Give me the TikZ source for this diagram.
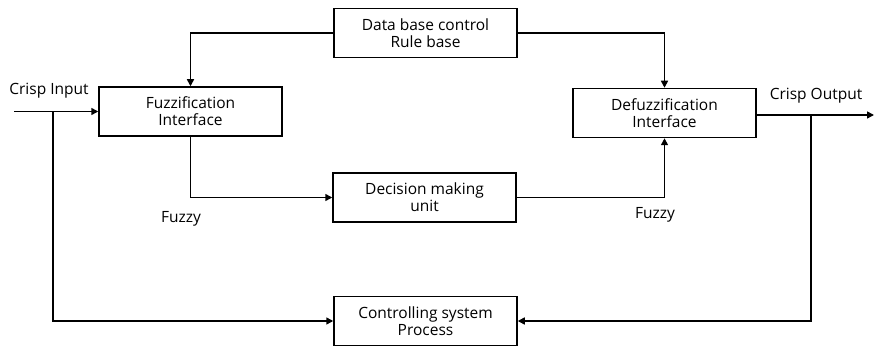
\documentclass[tikz,border=0pt]{standalone}
\usepackage{fontspec}
\setmainfont{Open Sans}
\usetikzlibrary{arrows.meta}

\begin{document}
\begin{tikzpicture}[x=1pt, y=1pt, font=\fontsize{15.5}{17}\selectfont]
        \tikzstyle{block}=[draw, line width=1.5pt, minimum width=183pt, minimum height=49pt, align=center, inner sep=2pt]
        \tikzstyle{link}=[line width=1.5pt, -{Triangle[length=7pt, width=7pt]}]
        \useasboundingbox (0,0) rectangle (874,-347);
        % blocks
        \node [block] (rules) at (425.5,-33) {Data base control\\Rule base};
        \node [block] (fuzz) at (190.5,-111.5) {Fuzzification\\Interface};
        \node [block] (defuzz) at (664.5,-113) {Defuzzification\\Interface};
        \node [block] (decide) at (424.5,-197.5) {Decision making\\unit};
        \node [block] (plant) at (425.5,-321) {Controlling system\\Process};
        % free ends and labels
        \coordinate (in) at (14,-111.5);
        \coordinate (out) at (874,-115);
        \node (crispin) at (49,-91) {Crisp Input};
        \node (crispout) at (816,-96) {Crisp Output};
        \node (fuzzyin) at (181,-219) {Fuzzy};
        \node (fuzzyout) at (655,-215) {Fuzzy};
        % connections
        \draw [link] (rules.west) -| (fuzz.north);
        \draw [link] (rules.east) -| (defuzz.north);
        \draw [link] (in) -- (fuzz.west);
        \draw [link] (fuzz.south) |- (decide.west);
        \draw [link] (decide.east) -| (defuzz.south);
        \draw [link] (defuzz.east |- out) -- (out);
        \draw [link] (53,-111.5) |- (plant.west);
        \draw [link] (811,-115) |- (plant.east);
\end{tikzpicture}
\end{document}
